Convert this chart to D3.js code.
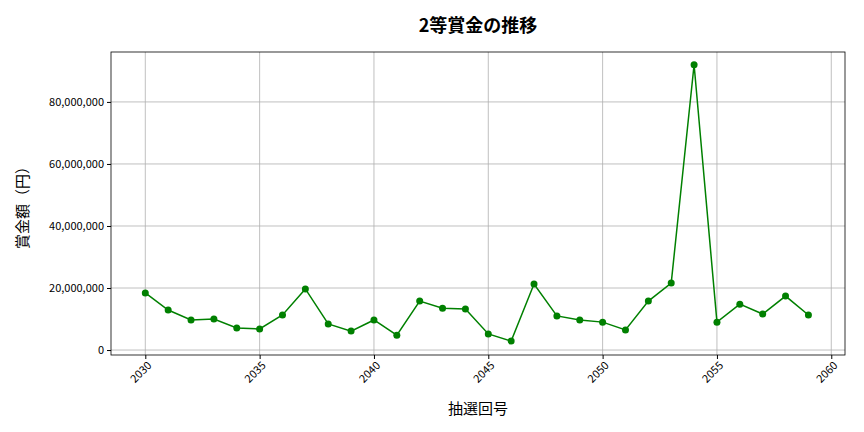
<!DOCTYPE html><html><head><meta charset="utf-8">
<script src="https://cdn.jsdelivr.net/npm/d3@7"></script>
<style>body{margin:0;background:#fff}text{font-family:"Noto Sans CJK JP","Noto Sans",sans-serif}</style></head><body>
<svg id="c" width="864" height="432"></svg>
<script>
const draws=[2030,2031,2032,2033,2034,2035,2036,2037,2038,2039,2040,2041,2042,2043,2044,2045,2046,2047,2048,2049,2050,2051,2052,2053,2054,2055,2056,2057,2058,2059];
const prizes=[18400000,12900000,9700000,10000000,7100000,6800000,11300000,19700000,8400000,6100000,9700000,4800000,15800000,13500000,13200000,5200000,2900000,21300000,11000000,9700000,9000000,6500000,15800000,21600000,92000000,9000000,14800000,11600000,17400000,11300000];
const xTicks=[2030,2035,2040,2045,2050,2055,2060];
const yTicks=[0,20000000,40000000,60000000,80000000];
const svg=d3.select("#c");
const L=111,R=845,T=52,B=355;
const x=d3.scaleLinear().domain([2028.5,2060.6]).range([L,R]);
const y=d3.scaleLinear().domain([-1600000,96100000]).range([B,T]);
const g=svg.append("g");
g.selectAll(".gx").data(xTicks).join("line").attr("x1",d=>x(d)).attr("x2",d=>x(d)).attr("y1",T).attr("y2",B).attr("stroke","#b0b0b0").attr("stroke-width",0.8);
g.selectAll(".gy").data(yTicks).join("line").attr("y1",d=>y(d)).attr("y2",d=>y(d)).attr("x1",L).attr("x2",R).attr("stroke","#b0b0b0").attr("stroke-width",0.8);
const xa=svg.append("g").attr("transform",`translate(0,${B})`).call(d3.axisBottom(x).tickValues(xTicks).tickFormat(d3.format("d")).tickSize(4));
xa.selectAll("text").attr("transform","rotate(-45)").attr("text-anchor","end").attr("dx","-0.3em").attr("dy","0.5em").style("font-size","11px");
const ya=svg.append("g").attr("transform",`translate(${L},0)`).call(d3.axisLeft(y).tickValues(yTicks).tickFormat(d3.format(",")).tickSize(4));
ya.selectAll("text").style("font-size","11px");
[xa,ya].forEach(a=>a.select(".domain").remove());
svg.append("rect").attr("x",L).attr("y",T).attr("width",R-L).attr("height",B-T).attr("fill","none").attr("stroke","#000").attr("stroke-width",0.8);
const data=draws.map((d,i)=>[d,prizes[i]]);
svg.append("path").datum(data).attr("d",d3.line().x(d=>x(d[0])).y(d=>y(d[1]))).attr("fill","none").attr("stroke","green").attr("stroke-width",1.5);
svg.selectAll(".p").data(data).join("circle").attr("cx",d=>x(d[0])).attr("cy",d=>y(d[1])).attr("r",3.5).attr("fill","green");
svg.append("text").attr("x",478).attr("y",32).attr("text-anchor","middle").style("font-size","18px").style("font-weight","bold").text("2等賞金の推移");
svg.append("text").attr("x",478).attr("y",414).attr("text-anchor","middle").style("font-size","15px").text("抽選回号");
svg.append("text").attr("transform","translate(28,204) rotate(-90)").attr("text-anchor","middle").style("font-size","15px").text("賞金額（円）");
</script></body></html>
